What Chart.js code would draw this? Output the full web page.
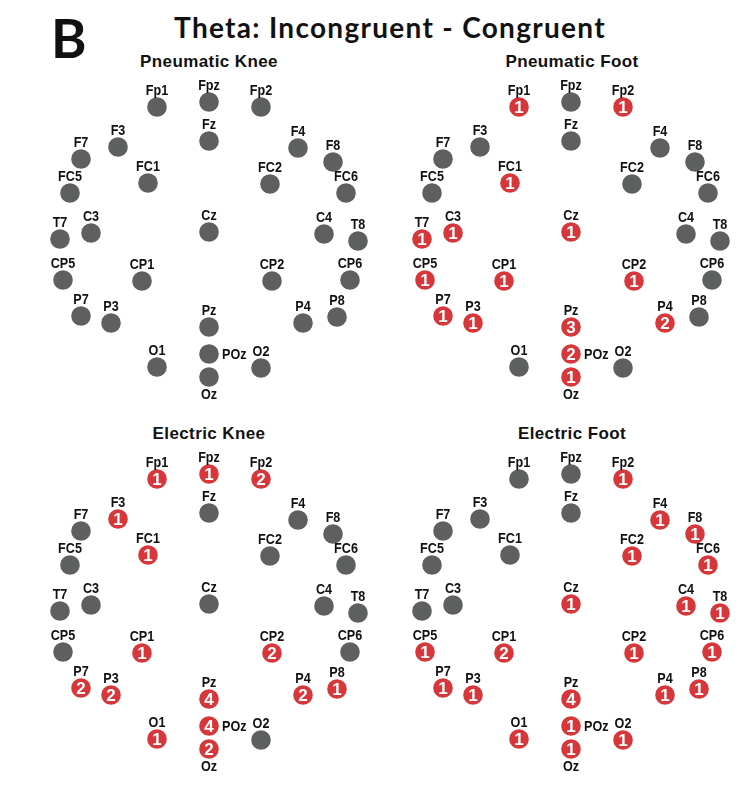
<!DOCTYPE html>
<html>
<head>
<meta charset="utf-8">
<script src="https://cdn.jsdelivr.net/npm/chart.js@4.4.1/dist/chart.umd.min.js"></script>
<style>
  body { margin: 0; background: #fff; width: 746px; height: 785px; position: relative; overflow: hidden; }
  .letra { position: absolute; left: 51px; top: 5px; font: bold 54px Lato, "Open Sans", sans-serif; color: #111; }
  .titulo { position: absolute; left: 0; width: 780px; top: 10px; text-align: center; font: bold 28px Lato, "Open Sans", sans-serif; letter-spacing: 1.3px; color: #111; }
  .panel { position: absolute; width: 360px; height: 340px; }
  .subtitulo { position: absolute; width: 360px; text-align: center; font: bold 17px "Liberation Sans", Arial, sans-serif; letter-spacing: 0.4px; color: #111; }
</style>
</head>
<body>
<div class="letra">B</div>
<div class="titulo">Theta: Incongruent - Congruent</div>

<div class="subtitulo" style="left:29px; top:52px">Pneumatic Knee</div>
<div class="subtitulo" style="left:392px; top:52px">Pneumatic Foot</div>
<div class="subtitulo" style="left:29px; top:424px">Electric Knee</div>
<div class="subtitulo" style="left:392px; top:424px">Electric Foot</div>

<div class="panel" style="left:19px; top:70px"><canvas id="c1"></canvas></div>
<div class="panel" style="left:381px; top:70px"><canvas id="c2"></canvas></div>
<div class="panel" style="left:19px; top:442px"><canvas id="c3"></canvas></div>
<div class="panel" style="left:381px; top:442px"><canvas id="c4"></canvas></div>

<script>
// Electrodos (posición en el mapa de la cabeza, Cz en el centro)
const electrodos = ['Fp1','Fpz','Fp2','F7','F3','Fz','F4','F8','FC5','FC1','FC2','FC6',
                    'T7','C3','Cz','C4','T8','CP5','CP1','CP2','CP6',
                    'P7','P3','Pz','P4','P8','O1','POz','O2','Oz'];
const posX = [-52, 0, 52, -128, -91, 0, 89, 124, -139, -61, 61, 137,
              -149, -118, 0, 115, 149, -146, -67, 63, 141,
              -128, -98, 0, 94, 128, -52, 0, 52, 0];
const posY = [125, 130, 125, 73, 85, 91, 84, 70, 39, 49, 48, 39,
              -7, -1, 0, -2, -9, -48, -49, -49, -48,
              -84, -91, -95, -91, -85, -135, -122, -136, -145];

// Número de participantes con efecto significativo por electrodo
const pneumaticKnee = [0,0,0, 0,0,0,0,0, 0,0,0,0, 0,0,0,0,0, 0,0,0,0, 0,0,0,0,0, 0,0,0,0];
const pneumaticFoot = [1,0,1, 0,0,0,0,0, 0,1,0,0, 1,1,1,0,0, 1,1,1,0, 1,1,3,2,0, 0,2,0,1];
const electricKnee  = [1,1,2, 0,1,0,0,0, 0,1,0,0, 0,0,0,0,0, 0,1,2,0, 2,2,4,2,1, 1,4,0,2];
const electricFoot  = [0,0,1, 0,0,0,1,1, 0,0,1,1, 0,0,1,1,1, 1,2,1,1, 1,1,4,1,1, 1,1,1,1];

const GRIS = '#5e5f5f';
const ROJO = '#d7363a';

// Texto estrecho: Liberation Sans comprimida en horizontal
function textoEstrecho(ctx, texto, x, y, align) {
    ctx.save();
    ctx.translate(x, y);
    ctx.scale(0.9, 1);
    ctx.textAlign = align;
    ctx.fillText(texto, 0, 0);
    ctx.restore();
}

// Etiquetas: la mayoría arriba, POz a la derecha y Oz abajo
function dibujarEtiquetas(chart, valores) {
    const ctx = chart.ctx;
    const meta = chart.getDatasetMeta(0);
    ctx.save();
    meta.data.forEach((p, i) => {
        const nombre = electrodos[i];
        ctx.fillStyle = '#111';
        ctx.font = 'bold 14px "Liberation Sans", Arial, sans-serif';
        if (nombre === 'POz') {
            ctx.textBaseline = 'middle';
            textoEstrecho(ctx, nombre, p.x + 13, p.y + 1, 'left');
        } else if (nombre === 'Oz') {
            ctx.textBaseline = 'top';
            textoEstrecho(ctx, nombre, p.x, p.y + 11, 'center');
        } else {
            ctx.textBaseline = 'alphabetic';
            textoEstrecho(ctx, nombre, p.x, p.y - 12, 'center');
        }
        if (valores[i] > 0) {
            ctx.fillStyle = '#fff';
            ctx.font = 'bold 17px "Liberation Sans", Arial, sans-serif';
            ctx.textAlign = 'center';
            ctx.textBaseline = 'middle';
            ctx.fillText(String(valores[i]), p.x, p.y + 1);
        }
    });
    ctx.restore();
}

function crearMapa(id, valores) {
    const ctx = document.getElementById(id).getContext('2d');
    return new Chart(ctx, {
        type: 'scatter',
        data: {
            datasets: [{
                data: electrodos.map((e, i) => ({ x: posX[i], y: posY[i] })),
                pointRadius: 9.8,
                pointHoverRadius: 9.8,
                pointBorderWidth: 0,
                pointBackgroundColor: valores.map(v => v > 0 ? ROJO : GRIS)
            }]
        },
        options: {
            responsive: true,
            maintainAspectRatio: false,
            animation: false,
            events: [],
            layout: { padding: 0, autoPadding: false },
            plugins: { legend: { display: false }, tooltip: { enabled: false } },
            scales: {
                x: { type: 'linear', min: -190, max: 170, display: false },
                y: { type: 'linear', min: -178, max: 162, display: false }
            }
        },
        plugins: [{
            id: 'etiquetas',
            afterDatasetsDraw(chart) { dibujarEtiquetas(chart, valores); }
        }]
    });
}

crearMapa('c1', pneumaticKnee);
crearMapa('c2', pneumaticFoot);
crearMapa('c3', electricKnee);
crearMapa('c4', electricFoot);
</script>
</body>
</html>
